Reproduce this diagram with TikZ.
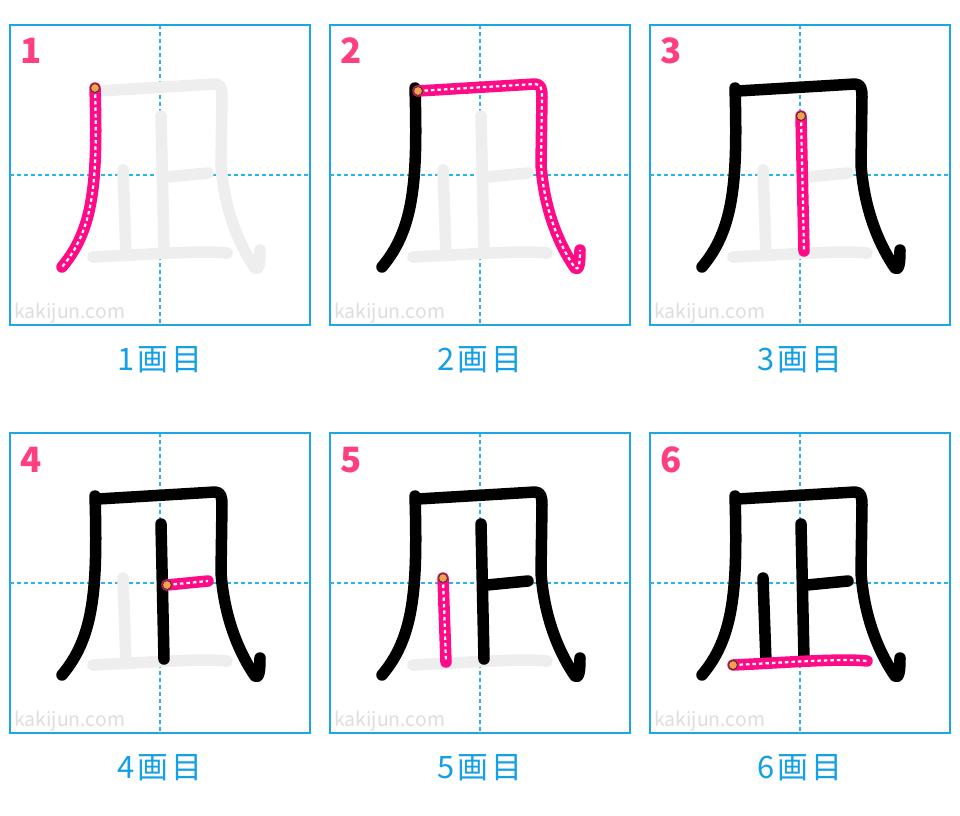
\documentclass[tikz,border=0pt]{standalone}
\usepackage{fontspec}
\newfontfamily\jpfont{Noto Sans CJK JP}
\usetikzlibrary{positioning}

\definecolor{gridblue}{RGB}{30,166,226}
\definecolor{guideblue}{RGB}{40,180,240}
\definecolor{labelblue}{RGB}{20,160,230}
\definecolor{numpink}{RGB}{255,64,128}
\definecolor{strokepink}{RGB}{255,10,135}
\definecolor{ghostgray}{RGB}{238,238,238}
\definecolor{markgray}{RGB}{222,222,222}
\definecolor{dotorange}{RGB}{245,160,80}
\definecolor{dotrim}{RGB}{80,55,35}

% the six strokes, in the frame of one 300 x 300 box
\newcommand\kjstroke[2]{%
  \ifcase#1\or
    \draw[#2] (85,63) .. controls (88,160) and (83,205) .. (52,242);
  \or
    \draw[#2] (88,66) -- (205,59) .. controls (211,59) and (212,64) .. (212,72)
      -- (211,140) .. controls (214,180) and (226,215) .. (245,243)
      .. controls (249,246) and (250,238) .. (250,225);
  \or
    \draw[#2] (151,91) -- (154,226);
  \or
    \draw[#2] (157,152) -- (198,148);
  \or
    \draw[#2] (113,145) -- (116,229);
  \or
    \draw[#2] (83,232) .. controls (130,230) and (190,225) .. (217,228);
  \fi}
\newcommand\kjstart[1]{%
  \ifcase#1\or\def\kjfrom{85,63}\or\def\kjfrom{88,66}\or\def\kjfrom{151,91}%
  \or\def\kjfrom{157,152}\or\def\kjfrom{113,145}\or\def\kjfrom{83,232}\fi}

\begin{document}
\begin{tikzpicture}[x=1bp, y=-1bp,
    panelbox/.style={draw=gridblue, line width=1.5bp, minimum size=300bp, inner sep=0pt, outer sep=0pt},
    guide/.style={draw=guideblue, line width=1.6bp, dash pattern=on 4bp off 3bp},
    ghost/.style={ghostgray, line width=11.5bp, line cap=round, line join=round},
    done/.style={black, line width=11.5bp, line cap=round, line join=round},
    current/.style={strokepink, line width=11.5bp, line cap=round, line join=round},
    centredash/.style={white, line width=2.2bp, dash pattern=on 3.5bp off 3bp},
    startdot/.style={fill=dotorange, draw=dotrim, line width=1bp},
    stepnum/.style={font=\jpfont\bfseries\fontsize{35}{35}\selectfont, text=numpink, inner sep=0pt, anchor=base west},
    steplabel/.style={font=\jpfont\fontsize{31}{31}\selectfont, text=labelblue, inner sep=0pt, anchor=base},
    watermark/.style={font=\jpfont\fontsize{19.5}{19.5}\selectfont, text=markgray, inner sep=0pt, anchor=base west}
  ]
  \useasboundingbox (0,0) rectangle (960,816);
  \fill[white] (0,0) rectangle (960,816);

  \foreach \n in {1,...,6}{
    \pgfmathtruncatemacro\col{mod(\n-1,3)}
    \pgfmathtruncatemacro\row{(\n-1)/3}
    \begin{scope}[shift={(10+320*\col,25+408*\row)}]
      \node[panelbox] (box\n) at (150,150) {};
      \draw[guide] (box\n.north) -- (box\n.south);
      \draw[guide] (box\n.west) -- (box\n.east);
      \node[watermark] (mark\n) at (4,293) {kakijun.com};
      % strokes still to come, strokes done, then this step
      \foreach \k in {1,...,6}{\ifnum\k>\n \kjstroke{\k}{ghost}\fi}
      \foreach \k in {1,...,6}{\ifnum\k<\n \kjstroke{\k}{done}\fi}
      \kjstroke{\n}{current}
      \kjstroke{\n}{centredash}
      \kjstart{\n}
      \draw[startdot] (\kjfrom) circle (4.5bp);
      \node[stepnum] (num\n) at (10,39) {\n};
      \node[steplabel] (label\n) at (150,345) {\n\hspace{3pt}画\hspace{3pt}目};
    \end{scope}
  }
\end{tikzpicture}
\end{document}
